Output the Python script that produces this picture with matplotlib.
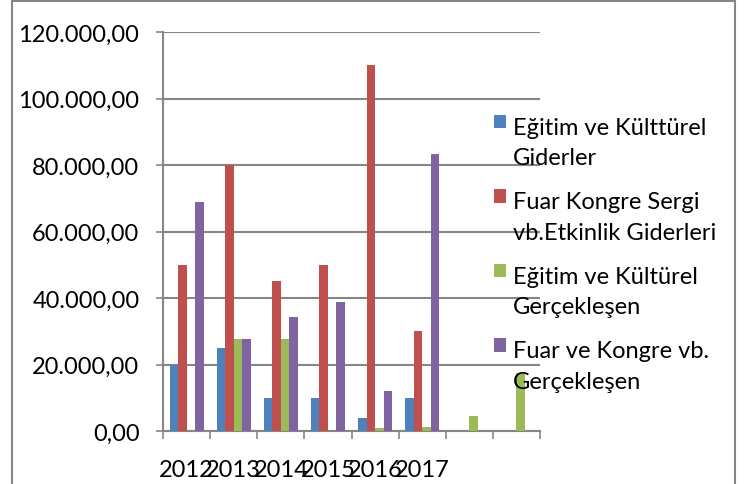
import matplotlib
matplotlib.use("Agg")
import matplotlib.pyplot as plt
import numpy as np
from matplotlib.patches import Rectangle
from matplotlib.legend_handler import HandlerPatch

plt.rcParams['font.family'] = ['Lato', 'DejaVu Sans']

categories = ["2012", "2013", "2014", "2015", "2016", "2017", "", ""]
series_names = ["Eğitim ve Külttürel\nGiderler",
                "Fuar Kongre Sergi\nvb.Etkinlik Giderleri",
                "Eğitim ve Kültürel\nGerçekleşen",
                "Fuar ve Kongre vb.\nGerçekleşen"]
egitim_gider = [20000, 25000, 10000, 10000, 4000, 10000, 0, 0]
fuar_gider = [50000, 80000, 45000, 50000, 110000, 30000, 0, 0]
egitim_gercek = [0, 27700, 27700, 0, 800, 1200, 4400, 17400]
fuar_gercek = [69000, 27700, 34200, 38700, 12100, 83300, 0, 0]
colors = ["#4F81BD", "#C0504D", "#9BBB59", "#8064A2"]
yticks = [0, 20000, 40000, 60000, 80000, 100000, 120000]

FS = 17
W, H = 748, 485
fig = plt.figure(figsize=(W/100, H/100), dpi=100)
ax = fig.add_axes([163/W, (H-432)/H, (540-163)/W, (432-33)/H])

x = np.arange(len(categories))
bw = 0.18
data = [egitim_gider, fuar_gider, egitim_gercek, fuar_gercek]
handles = []
for i, (vals, c, name) in enumerate(zip(data, colors, series_names)):
    h = ax.bar(x + (i - 1.5) * bw, vals, width=bw, color=c, label=name, zorder=3)
    handles.append(h.patches[0])

ax.set_xlim(-0.5, len(categories) - 0.5)
ax.set_ylim(0, 120000)
ax.set_yticks(yticks)
ax.set_yticklabels([f"{v:,.2f}".replace(",", "X").replace(".", ",").replace("X", ".") for v in yticks])
ax.set_xticks(x)
ax.set_xticklabels(categories)
ax.set_xticks(np.arange(len(categories) + 1) - 0.5, minor=True)
ax.tick_params(axis='x', which='major', length=0, pad=20, labelsize=FS)
ax.tick_params(axis='x', which='minor', length=6, width=1.2, color='#868686', direction='out')
ax.tick_params(axis='y', length=5, width=1.2, color='#868686', pad=12, labelsize=FS)
ax.yaxis.grid(True, color='#868686', linewidth=1.5, zorder=0)
ax.set_axisbelow(True)
for s in ['top', 'right']:
    ax.spines[s].set_visible(False)
for s in ['left', 'bottom']:
    ax.spines[s].set_color('#868686')
    ax.spines[s].set_linewidth(1.5)

LS = 1.55


def top_square(legend, orig_handle, xdescent, ydescent, width, height, fontsize):
    return Rectangle((-xdescent, -ydescent + 0.9 * fontsize), width, height)


leg = fig.legend(handles=handles, labels=series_names, loc='upper left',
                 bbox_to_anchor=(494/W, 1 - 118/H), borderaxespad=0,
                 frameon=False, fontsize=FS, handlelength=0.5, handleheight=0.5,
                 handletextpad=0.30, labelspacing=0.98, borderpad=0,
                 handler_map={h: HandlerPatch(patch_func=top_square) for h in handles})
for t in leg.get_texts():
    t.set_linespacing(LS)

fig.patches.append(Rectangle((12/W, -0.1), (735-12)/W, 1.1 - 2/H, transform=fig.transFigure,
                             fill=False, edgecolor='#868686', linewidth=1.5))

fig.savefig("out.png", dpi=100)
